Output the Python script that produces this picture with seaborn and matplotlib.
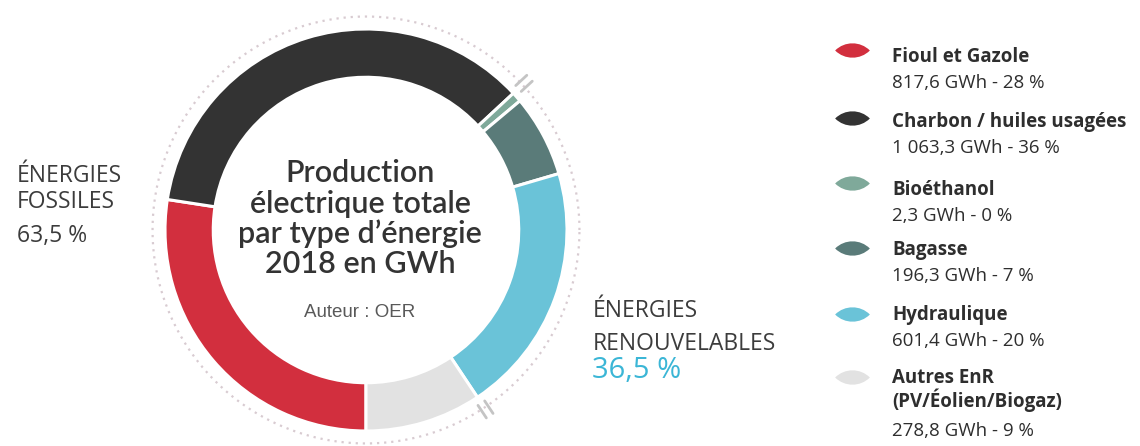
import numpy as np
import matplotlib
matplotlib.use("Agg")
import matplotlib.pyplot as plt
from matplotlib.path import Path
import seaborn as sns

# ---- data ----
categories = ["Fioul et Gazole", "Charbon / huiles usagées", "Bioéthanol",
              "Bagasse", "Hydraulique", "Autres EnR\n(PV/Éolien/Biogaz)"]
values_gwh = [817.6, 1063.3, 2.3, 196.3, 601.4, 278.8]
value_labels = ["817,6 GWh - 28 %", "1 063,3 GWh - 36 %", "2,3 GWh - 0 %",
                "196,3 GWh - 7 %", "601,4 GWh - 20 %", "278,8 GWh - 9 %"]
colors = ["#d22f3e", "#333333", "#7fa99a", "#5a7b79", "#6ac3d8", "#e2e2e2"]
fossil_lines = ["ÉNERGIES", "FOSSILES", "63,5 %"]
renew_lines = ["ÉNERGIES", "RENOUVELABLES"]
renew_pct = "36,5 %"
center_title = ["Production", "électrique totale", "par type d\u2019énergie", "2018 en GWh"]
author = "Auteur : OER"

sns.set_theme(style="white")
plt.rcParams['font.family'] = ['Open Sans', 'DejaVu Sans']

W, H = 1140, 446
fig = plt.figure(figsize=(W / 100, H / 100), dpi=100)
fig.patch.set_facecolor("white")

# donut axes: centre (366, 230) px, radius 201 px
cx, cy, R = 366, 230, 201
L = 1.15
half = L * R
ax = fig.add_axes([(cx - half) / W, (H - cy - half) / H, 2 * half / W, 2 * half / H])

total = sum(values_gwh)
display_vals = [max(v, total * 0.008) for v in values_gwh]  # keep tiny slices visible
ax.pie(display_vals, colors=colors, startangle=-90, counterclock=False, radius=1.0,
       wedgeprops=dict(width=0.24, edgecolor="white", linewidth=2.2))
ax.set_xlim(-L, L)
ax.set_ylim(-L, L)
ax.set_aspect("equal")
ax.axis("off")

# dotted outer ring
t = np.linspace(0, 2 * np.pi, 600)
ax.plot(1.062 * np.cos(t), 1.062 * np.sin(t), linestyle=(0, (1, 2.2)),
        color="#d8cbd1", linewidth=1.6)

# double tick marks at group boundaries
cum = np.cumsum(display_vals) / sum(display_vals)
for idx in (1, 4):
    frac = cum[idx]
    ang = np.deg2rad(-90 - frac * 360)
    tang = np.array([-np.sin(ang), np.cos(ang)])
    rad = np.array([np.cos(ang), np.sin(ang)])
    for off in (-0.02, 0.02):
        p0 = rad * 1.035 + tang * off
        p1 = rad * 1.11 + tang * off
        ax.plot([p0[0], p1[0]], [p0[1], p1[1]], color="#c4c4c4", linewidth=2.0,
                solid_capstyle="round")

# overlay axes in pixel coordinates for texts and legend
ov = fig.add_axes([0, 0, 1, 1])
ov.set_xlim(0, W)
ov.set_ylim(H, 0)
ov.axis("off")
ov.patch.set_alpha(0)

for line, yb in zip(center_title, [182, 213, 243, 273]):
    ov.text(360, yb, line, ha="center", va="baseline", fontsize=22,
            family=["Lato", "DejaVu Sans"], fontweight=600, color="#333333")
ov.text(360, 317, author, ha="center", va="baseline", fontsize=13.5,
        family=["Liberation Sans", "DejaVu Sans"], color="#595959")

for line, yb in zip(fossil_lines, [182, 208, 242]):
    ov.text(17, yb, line, ha="left", va="baseline", fontsize=16.5, color="#3c3c3c")
for line, yb in zip(renew_lines, [317, 350]):
    ov.text(593, yb, line, ha="left", va="baseline", fontsize=16.5, color="#3c3c3c")
ov.text(592, 378, renew_pct, ha="left", va="baseline", fontsize=21, color="#3bb6d6")

# legend
lens = Path([(-1, 0), (-0.45, 0.55), (0.45, 0.55), (1, 0),
             (0.45, -0.55), (-0.45, -0.55), (-1, 0)],
            [Path.MOVETO, Path.CURVE4, Path.CURVE4, Path.CURVE4,
             Path.CURVE4, Path.CURVE4, Path.CURVE4])
marker_y = [50, 118, 183, 248, 314, 377]
name_base = [62, 127, 195, 255, 320, 383]
line_h = 26
for cat, lab, col, my, nb in zip(categories, value_labels, colors, marker_y, name_base):
    ov.plot([852], [my], marker=lens, markersize=25, color=col,
            markeredgewidth=0, linestyle="none")
    parts = cat.split("\n")
    for k, p in enumerate(parts):
        ov.text(892, nb + k * (line_h - 2), p, ha="left", va="baseline", fontsize=13.5,
                fontweight="bold", color="#2e2e2e")
    ov.text(892, nb + (len(parts) - 1) * (line_h - 2) + line_h + (3 if len(parts) > 1 else 0),
            lab, ha="left", va="baseline", fontsize=13.5, color="#2e2e2e")

fig.savefig("out.png", dpi=100, facecolor="white")
